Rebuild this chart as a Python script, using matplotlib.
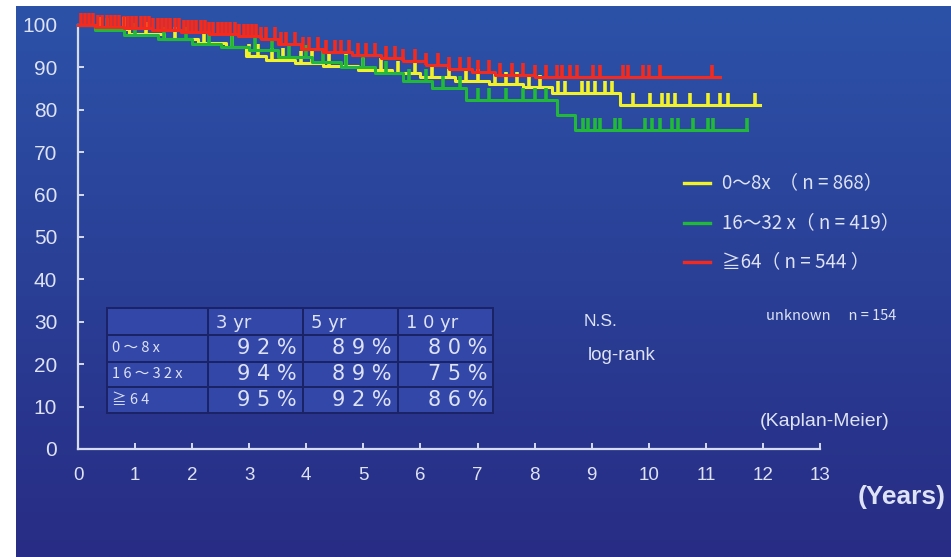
import numpy as np
import matplotlib
matplotlib.use("Agg")
import matplotlib.pyplot as plt
from matplotlib.markers import TICKUP

# Kaplan-Meier step points: (years, survival %) read per group
yel_t = [0, 0.3, 0.9, 1.5, 2.1, 2.6, 2.95, 3.3, 3.8, 4.3, 4.9, 5.5, 6.0, 6.6, 7.2, 7.8, 8.3, 9.5]
yel_s = [100, 99.0, 97.8, 96.8, 95.7, 94.8, 92.6, 91.8, 91.0, 90.3, 89.4, 88.6, 87.8, 86.9, 86.0, 85.4, 84.0, 81.1]
yel_end = 11.95
yel_cens = [0.4, 0.8, 1.2, 1.7, 2.2, 2.7, 3.0, 3.15, 3.4, 3.6, 3.9, 4.1, 4.4, 4.7, 5.0, 5.3, 5.6, 5.9,
            6.2, 6.5, 6.8, 7.0, 7.3, 7.5, 7.7, 7.9, 8.1, 8.41, 8.53, 8.83, 8.93, 9.06, 9.23, 9.36,
            9.72, 10.02, 10.23, 10.34, 10.46, 10.72, 11.04, 11.25, 11.39, 11.86]

grn_t = [0, 0.3, 0.8, 1.4, 2.0, 2.5, 3.0, 3.5, 4.1, 4.6, 5.2, 5.7, 6.2, 6.8, 8.4, 8.7]
grn_s = [100, 98.9, 97.6, 96.6, 95.6, 94.9, 94.0, 92.5, 91.2, 90.0, 88.6, 86.9, 85.2, 82.3, 78.8, 75.2]
grn_end = 11.72
grn_cens = [0.5, 1.0, 1.5, 1.9, 2.3, 2.7, 3.1, 3.4, 3.7, 4.0, 4.3, 4.7, 5.0, 5.4, 5.8, 6.1, 6.4,
            6.7, 7.0, 7.2, 7.5, 7.8, 8.0, 8.2, 8.85, 8.93, 9.06, 9.14, 9.41, 9.5, 9.93, 10.06,
            10.2, 10.41, 10.51, 10.77, 11.04, 11.12, 11.72]

red_t = [0, 0.3, 0.8, 1.3, 1.8, 2.3, 2.8, 3.2, 3.5, 3.9, 4.3, 4.8, 5.3, 5.7, 6.1, 6.5, 6.9, 7.3, 8.0]
red_s = [100, 99.5, 99.2, 98.8, 98.3, 97.8, 97.3, 96.6, 95.5, 94.3, 93.6, 93.0, 92.3, 91.5, 90.6,
         89.7, 88.8, 88.2, 87.7]
red_end = 11.25
red_cens = [0.05, 0.12, 0.2, 0.27, 0.35, 0.42, 0.5, 0.57, 0.65, 0.72, 0.8, 0.87, 0.95, 1.02, 1.1,
            1.17, 1.25, 1.32, 1.4, 1.47, 1.55, 1.62, 1.7, 1.77, 1.85, 1.92, 2.0, 2.07, 2.15, 2.22,
            2.3, 2.37, 2.45, 2.52, 2.6, 2.67, 2.75, 2.82, 2.9, 2.97, 3.05, 3.12, 3.2, 3.3, 3.45,
            3.55, 3.65, 3.8, 3.95, 4.05, 4.2, 4.35, 4.5, 4.6, 4.75, 4.9, 5.05, 5.2, 5.4, 5.55,
            5.7, 5.9, 6.1, 6.3, 6.5, 6.7, 6.85, 7.0, 7.2, 7.4, 7.6, 7.8, 8.0, 8.2, 8.39, 8.48,
            8.62, 8.74, 9.02, 9.14, 9.55, 9.63, 9.9, 10.0, 10.2, 11.1]

legend_labels = ["0〜8x  （ n = 868）", "16〜32 x（ n = 419）", "≧64（ n = 544 ）"]

table_cols = ["3 yr", "5 yr", "1 0 yr"]
table_rows = ["0 〜 8 x", "1 6 〜 3 2 x", "≧ 6 4"]
table_vals = [[92, 89, 80],
              [94, 89, 75],
              [95, 92, 86]]

x_ticks = list(range(0, 14))
y_ticks = list(range(0, 101, 10))

YEL = "#f2f22a"
GRN = "#22b83a"
RED = "#f42a1e"
TXT = "#dde2f4"
AXC = "#d6dbf0"

cjk = ["Noto Sans CJK JP", "DejaVu Sans"]

W, H = 951, 557
fig = plt.figure(figsize=(W / 100, H / 100), dpi=100, facecolor="white")


def fx(px):
    return px / W


def fy(py):
    return 1 - py / H


# blue slide background with a soft vertical gradient
bg = fig.add_axes([fx(16), 0, 1 - fx(16), fy(6)], zorder=-10)
top = np.array([44, 82, 168]) / 255
bot = np.array([40, 44, 132]) / 255
grad = np.linspace(0, 1, 256)[:, None, None]
img = top * (1 - grad) + bot * grad
bg.imshow(np.repeat(img, 2, axis=1), aspect="auto", extent=[0, 1, 0, 1])
bg.axis("off")

ax = fig.add_axes([fx(78), fy(449), fx(820) - fx(78), fy(25) - fy(449)])
ax.set_facecolor("none")
ax.set_xlim(0, 13)
ax.set_ylim(0, 100)


def km(t, s, end, cens, color):
    tt = list(t) + [end]
    ss = list(s) + [s[-1]]
    ax.step(tt, ss, where="post", color=color, lw=2.2, clip_on=False, zorder=3)
    idx = np.searchsorted(t, cens, side="right") - 1
    cs = [s[i] for i in idx]
    ax.plot(cens, cs, ls="none", marker=TICKUP, ms=9, mew=2.6, color=color,
            clip_on=False, zorder=3)


km(yel_t, yel_s, yel_end, yel_cens, YEL)
km(grn_t, grn_s, grn_end, grn_cens, GRN)
km(red_t, red_s, red_end, red_cens, RED)

for side in ["top", "right"]:
    ax.spines[side].set_visible(False)
for side in ["left", "bottom"]:
    ax.spines[side].set_color(AXC)
    ax.spines[side].set_linewidth(1.6)
ax.set_xticks(x_ticks)
ax.set_yticks(y_ticks)
ax.tick_params(axis="both", direction="in", length=4, width=1.4, colors=AXC)
ax.tick_params(axis="x", pad=13, labelcolor=TXT)
ax.tick_params(axis="y", pad=15, labelcolor=TXT)
for lab in ax.get_xticklabels():
    lab.set_fontfamily("Liberation Sans")
    lab.set_fontsize(13.5)
for lab in ax.get_yticklabels():
    lab.set_fontfamily("Liberation Sans")
    lab.set_fontsize(15)

fig.text(fx(946), fy(497), "(Years)", ha="right", va="center", color=TXT,
         fontsize=19, fontweight="bold", family="Liberation Sans")

# legend drawn by hand to keep the slide spacing
for py, col, lab in zip([183, 223, 262], [YEL, GRN, RED], legend_labels):
    fig.add_artist(plt.Line2D([fx(684), fx(710)], [fy(py), fy(py)], color=col, lw=2.4))
    fig.text(fx(722), fy(py), lab, ha="left", va="center", color=TXT, fontsize=13.5,
             family=cjk)

fig.text(fx(584), fy(322), "N.S.", ha="left", va="center", color=TXT, fontsize=12.5,
         family="Liberation Sans")
fig.text(fx(588), fy(356), "log-rank", ha="left", va="center", color=TXT, fontsize=13.5,
         family="Liberation Sans")
fig.text(fx(766), fy(316), "unknown　 n = 154", ha="left", va="center", color=TXT,
         fontsize=10.5, family=cjk)
fig.text(fx(760), fy(422), "(Kaplan-Meier)", ha="left", va="center", color=TXT,
         fontsize=14, family="Liberation Sans")

# survival table
col_x = [107, 208, 303, 398, 493]
row_y = [308, 335, 362, 387, 413]
fig.add_artist(plt.Rectangle((fx(col_x[0]), fy(row_y[-1])), fx(col_x[-1]) - fx(col_x[0]),
                             fy(row_y[0]) - fy(row_y[-1]), facecolor="#3347a9",
                             edgecolor="none"))
for px in col_x:
    fig.add_artist(plt.Line2D([fx(px), fx(px)], [fy(row_y[0]), fy(row_y[-1])],
                              color="#1b2266", lw=1.4))
for py in row_y:
    fig.add_artist(plt.Line2D([fx(col_x[0]), fx(col_x[-1])], [fy(py), fy(py)],
                              color="#1b2266", lw=1.4))
for j, name in enumerate(table_cols):
    fig.text(fx(col_x[j + 1] + 8), fy((row_y[0] + row_y[1]) / 2 + 1), name, ha="left",
             va="center", color=TXT, fontsize=13, family="DejaVu Sans")
for i, name in enumerate(table_rows):
    yc = (row_y[i + 1] + row_y[i + 2]) / 2
    fig.text(fx(col_x[0] + 5), fy(yc), name, ha="left", va="center", color=TXT,
             fontsize=10.5, family=cjk)
    for j, v in enumerate(table_vals[i]):
        fig.text(fx(col_x[j + 2] - 6), fy(yc), " ".join(f"{v}%"), ha="right", va="center",
                 color=TXT, fontsize=15, family="DejaVu Sans")

fig.savefig("out.png", dpi=100, facecolor="white")
